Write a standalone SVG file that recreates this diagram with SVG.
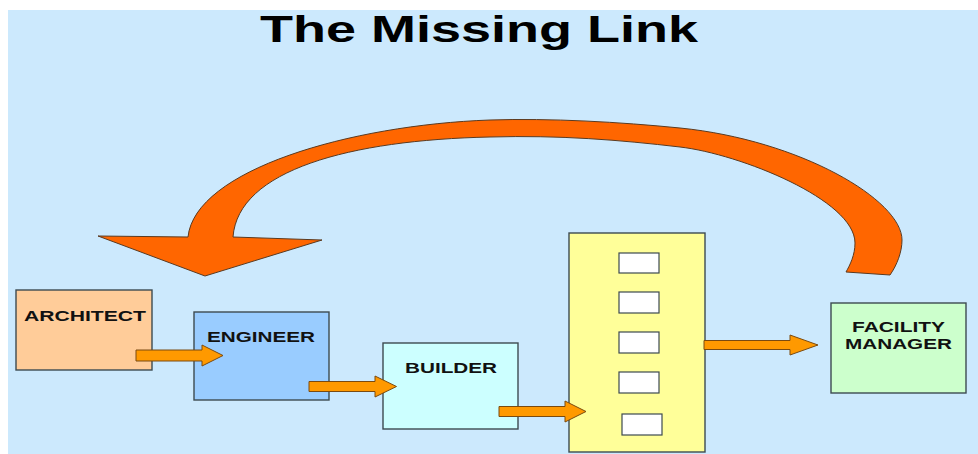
<svg xmlns="http://www.w3.org/2000/svg" width="978" height="454" viewBox="0 0 978 454">
  <defs>
    <style>
      .box { stroke: #3d4a50; stroke-width: 1.4; }
      .slot { fill: #ffffff; stroke: #3d4a50; stroke-width: 1.2; }
      .lbl { font-family: "Liberation Sans", Arial, sans-serif; font-weight: bold; font-size: 14px; fill: #111111; }
      .title { font-family: "Liberation Sans", Arial, sans-serif; font-weight: bold; font-size: 36px; fill: #000000; }
      .flow { fill: #ff9900; stroke: #7a4a10; stroke-width: 1; stroke-linejoin: miter; }
      .loop { fill: #ff6600; stroke: #5a3a20; stroke-width: 1; stroke-linejoin: miter; }
    </style>
  </defs>

  <!-- backdrop -->
  <rect x="0" y="0" width="978" height="454" fill="#ffffff"/>
  <rect x="8" y="10" width="970" height="444" fill="#cce9fd"/>

  <text class="title" x="260" y="42" textLength="438" lengthAdjust="spacingAndGlyphs">The Missing Link</text>

  <g id="architect">
    <rect class="box" x="16" y="290" width="136" height="80" fill="#ffcc99"/>
    <text class="lbl" x="24" y="321" textLength="122" lengthAdjust="spacingAndGlyphs">ARCHITECT</text>
  </g>

  <g id="engineer">
    <rect class="box" x="194" y="312" width="135" height="88" fill="#99ccff"/>
    <text class="lbl" x="207" y="342" textLength="108" lengthAdjust="spacingAndGlyphs">ENGINEER</text>
  </g>

  <g id="builder">
    <rect class="box" x="383" y="343" width="135" height="86" fill="#ccffff"/>
    <text class="lbl" x="405" y="373" textLength="92" lengthAdjust="spacingAndGlyphs">BUILDER</text>
  </g>

  <g id="records">
    <rect class="box" x="569" y="233" width="136" height="219" fill="#ffff99"/>
    <rect class="slot" x="619" y="253" width="40" height="20"/>
    <rect class="slot" x="619" y="292" width="40" height="21"/>
    <rect class="slot" x="619" y="332" width="40" height="21"/>
    <rect class="slot" x="619" y="372" width="40" height="21"/>
    <rect class="slot" x="622" y="414" width="40" height="21"/>
  </g>

  <g id="facility-manager">
    <rect class="box" x="831" y="303" width="135" height="90" fill="#ccffcc"/>
    <text class="lbl" x="852" y="332" textLength="93" lengthAdjust="spacingAndGlyphs">FACILITY</text>
    <text class="lbl" x="845" y="349" textLength="107" lengthAdjust="spacingAndGlyphs">MANAGER</text>
  </g>

  <g id="connectors">
    <!-- block arrows along the chain -->
    <path class="flow" d="M136 350 L202 350 L202 345 L223 355.5 L202 366 L202 361 L136 361 Z"/>
    <path class="flow" d="M309 381.5 L375 381.5 L375 376 L396.5 386.5 L375 397 L375 391.5 L309 391.5 Z"/>
    <path class="flow" d="M499 406.5 L565 406.5 L565 401 L586 411.5 L565 422 L565 416.5 L499 416.5 Z"/>
    <path class="flow" d="M704 340.5 L790 340.5 L790 335 L818 345 L790 355 L790 349.5 L704 349.5 Z"/>
    <!-- feedback loop back to the start -->
    <path class="loop" d="M890 275 C897 265 902 252 902 240 C902 200 800 140 680 128 C620 122 550 118 490 120 C350 125 195 170 188 237 L98 236 L205 276 L322 240 L233 237 C238 170 350 140 490 137 C560 135 620 140 680 147 C740 154 855 200 855 243 C855 255 850 265 846 272 Z"/>
  </g>
</svg>
